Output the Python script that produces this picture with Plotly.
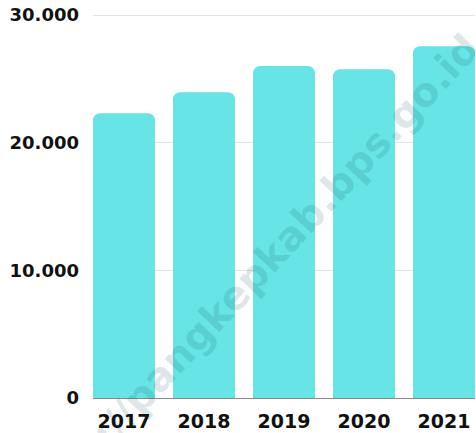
import plotly.graph_objects as go

years = ["2017", "2018", "2019", "2020", "2021"]
values = [22300, 23950, 26000, 25750, 27550]
y_tick_vals = [0, 10000, 20000, 30000]
y_tick_text = ["0", "10.000", "20.000", "30.000"]
watermark = "https://pangkepkab.bps.go.id"

W, H = 476, 433
ML, MR, MT, MB = 93, 1, 14, 35

fig = go.Figure(
    go.Bar(
        x=years,
        y=values,
        marker=dict(color="#66E4E6", line=dict(width=0), cornerradius=7),
        width=0.775,
        hoverinfo="skip",
    )
)

fig.update_layout(
    width=W,
    height=H,
    margin=dict(l=ML, r=MR, t=MT, b=MB, pad=0, autoexpand=False),
    paper_bgcolor="white",
    plot_bgcolor="white",
    showlegend=False,
    font=dict(family="DejaVu Sans", color="#111111", weight="bold"),
    xaxis=dict(
        type="category",
        range=[-0.3875, 4.3875],
        showgrid=False,
        showline=True,
        linecolor="#8a8a8a",
        linewidth=1,
        ticks="",
        tickfont=dict(size=19, family="DejaVu Sans", weight="bold", color="#111111"),
        ticklabelstandoff=6,
        fixedrange=True,
        automargin=False,
    ),
    yaxis=dict(
        range=[0, 30080],
        tickvals=y_tick_vals,
        ticktext=y_tick_text,
        showgrid=True,
        gridcolor="#e4e4e4",
        gridwidth=1,
        zeroline=False,
        showline=False,
        ticks="",
        tickfont=dict(size=18, family="DejaVu Sans", weight="bold", color="#111111"),
        ticklabelstandoff=13,
        ticklabeloverflow="allow",
        fixedrange=True,
        automargin=False,
    ),
)

# watermark centre in pixels -> paper coordinates
cx, cy = 245, 284
fig.add_annotation(
    text=watermark,
    xref="paper",
    yref="paper",
    x=(cx - ML) / (W - ML - MR),
    y=(H - MB - cy) / (H - MT - MB),
    xanchor="center",
    yanchor="middle",
    showarrow=False,
    textangle=-47,
    font=dict(size=40, family="DejaVu Sans", weight="bold", color="rgba(0,60,70,0.13)"),
)

fig.write_html(
    "out.html",
    config={"displayModeBar": False},
    post_script="document.body.style.margin='0';",
)
